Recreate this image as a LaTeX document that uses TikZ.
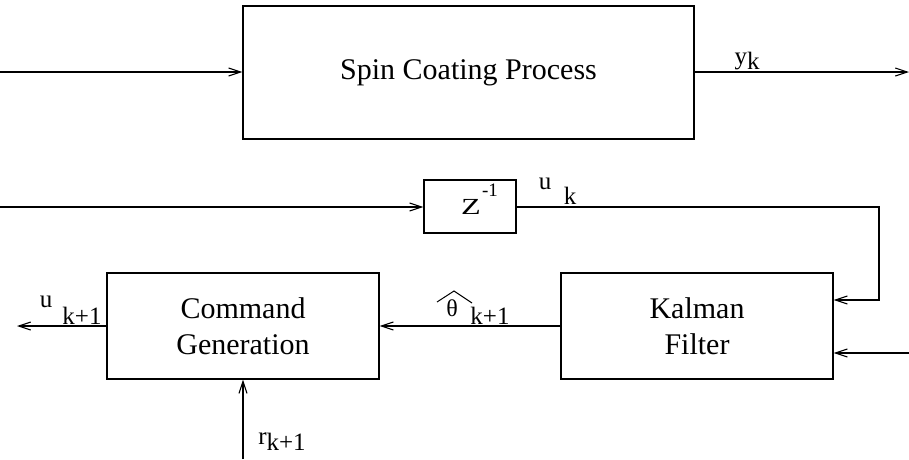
\documentclass[tikz,border=0pt]{standalone}
\usepackage{fontspec}
\setmainfont{Liberation Serif}
\usetikzlibrary{arrows.meta}
\begin{document}
\begin{tikzpicture}[x=1pt,y=-1pt,
  blk/.style={draw,line width=1.3pt,inner sep=0pt,font=\fontsize{30}{36}\selectfont,align=center},
  lbl/.style={inner sep=0pt,font=\fontsize{25}{28}\selectfont},
  conn/.style={line width=1.2pt,-{Straight Barb[length=12pt,width=8pt,line width=1.1pt]}}]
\useasboundingbox (0,0) rectangle (909,459);
% blocks
\node[blk,minimum width=451pt,minimum height=133pt] (spin) at (468.5,72.5) {Spin Coating Process};
\node[blk,minimum width=92pt,minimum height=53pt] (z) at (470,206.5) {};
\node[inner sep=0pt,font=\fontsize{23}{26}\selectfont,xscale=1.4] (zt) at (471,207) {Z};
\node[inner sep=0pt,font=\fontsize{19}{22}\selectfont] (zs) at (490,190) {-1};
\node[blk,minimum width=272pt,minimum height=106pt] (kal) at (697,326) {Kalman\\[0pt]Filter};
\node[blk,minimum width=272pt,minimum height=106pt] (cmd) at (243,326) {Command\\[0pt]Generation};
% free ends
\coordinate (in1) at (0,72);
\coordinate (out1) at (909,72);
\coordinate (in2) at (0,207);
\coordinate (fbA) at (879,207);
\coordinate (fbB) at (879,300);
\coordinate (in3) at (909,353);
\coordinate (uout) at (17,326);
\coordinate (rin) at (243,459);
% connectors
\draw[conn] (in1) -- (spin.west |- in1);
\draw[conn] (spin.east |- out1) -- (out1);
\draw[conn] (in2) -- (z.west |- in2);
\draw[conn] (z.east |- fbA) -- (fbA) -- (fbB) -- (kal.east |- fbB);
\draw[conn] (in3) -- (kal.east |- in3);
\draw[conn] (kal.west) -- (cmd.east);
\draw[conn] (cmd.west) -- (uout);
\draw[conn] (rin) -- (cmd.south);
% labels
\node[lbl] (yk) at (747,61) {y\raisebox{-5pt}{k}};
\node[lbl] (uk1) at (545,184) {u};
\node[lbl] (uk2) at (570,196) {k};
\node[inner sep=0pt,font=\fontsize{24}{26}\selectfont] (th) at (452,308) {θ};
\draw[line width=1pt] (437,302) -- (454,291) -- (472,303);
\node[lbl] (th2) at (490,316) {k+1};
\node[lbl] (uu) at (46,302) {u};
\node[lbl] (uu2) at (82,316) {k+1};
\node[lbl] (rr) at (282,442) {r\raisebox{-6pt}{k+1}};
\end{tikzpicture}
\end{document}
